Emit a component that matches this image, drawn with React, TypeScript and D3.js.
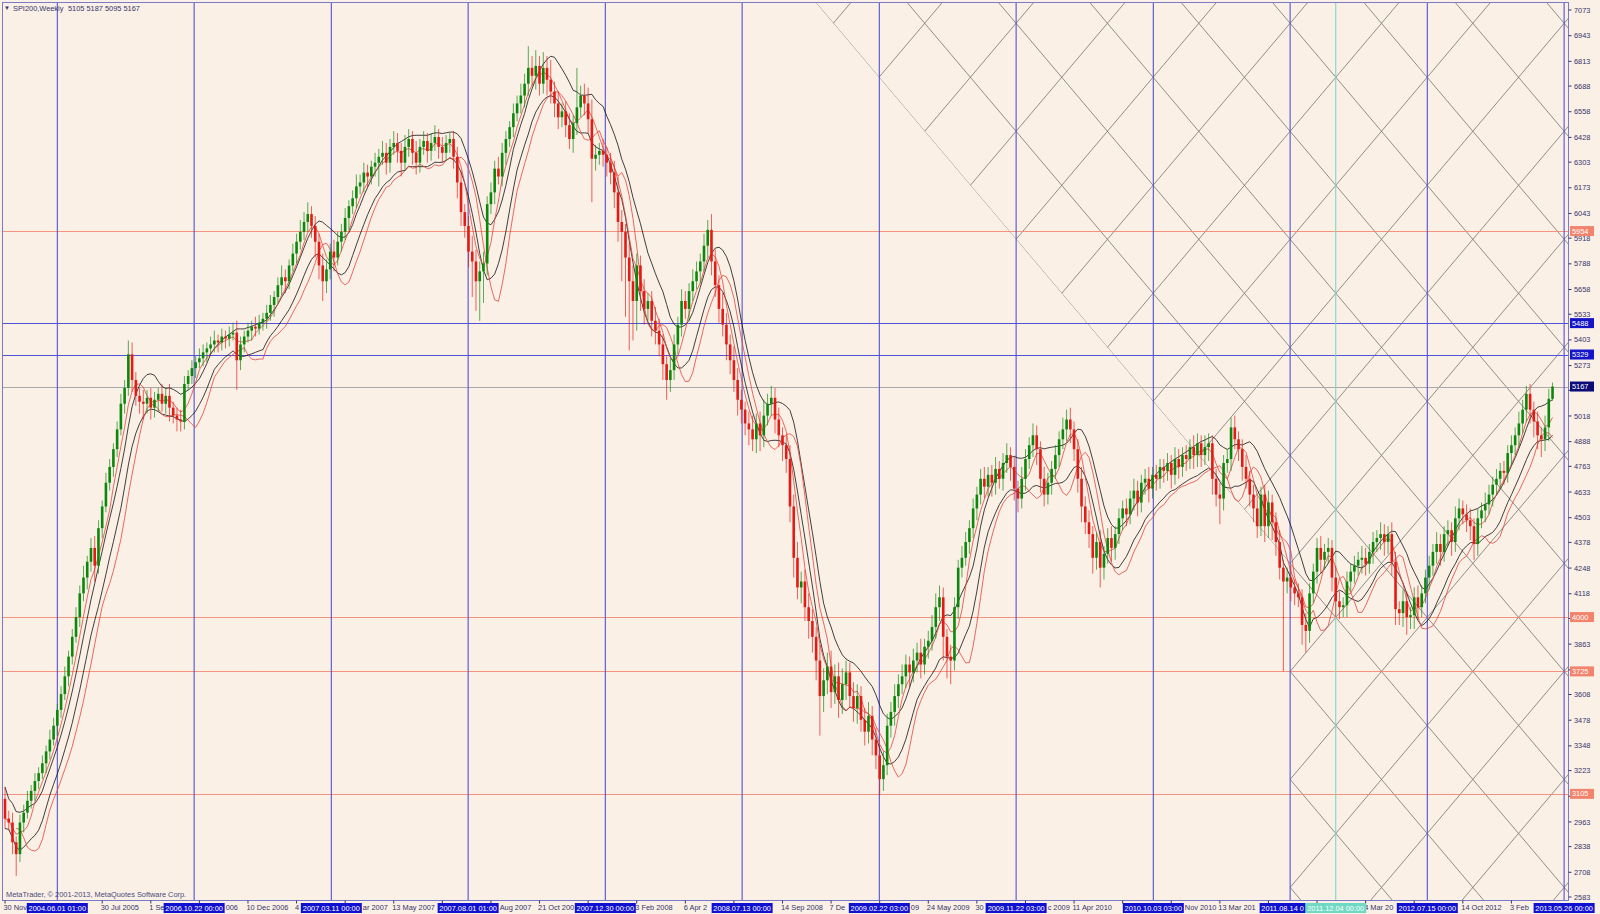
import React from 'react'
import * as d3 from 'd3'

// SPI200 weekly closes, one per bar (bar 0 = first bar on the chart)
const closes = [
  2980, 2960, 2860, 2800, 2960, 3010, 3070, 3120, 3170, 3210,
  3260, 3320, 3380, 3450, 3530, 3610, 3700, 3800, 3900, 4000,
  4120, 4200, 4280, 4350, 4260, 4450, 4560, 4680, 4760, 4850,
  4950, 5080, 5160, 5330, 5200, 5120, 5090, 5080, 5110, 5060,
  5100, 5130, 5080, 5120, 5060, 5020, 5000, 4990, 5180, 5220,
  5260, 5290, 5310, 5340, 5360, 5380, 5400, 5390, 5420, 5410,
  5430, 5440, 5300, 5380, 5420, 5450, 5470, 5460, 5490, 5510,
  5540, 5580, 5620, 5680, 5720, 5700, 5780, 5840, 5900, 5950,
  6000, 6040, 5980, 5900, 5780, 5700, 5760, 5850, 5820, 5900,
  5950, 6020, 6080, 6120, 6180, 6200, 6250, 6230, 6280, 6300,
  6330, 6350, 6300, 6380, 6400, 6360, 6300, 6380, 6420, 6350,
  6300, 6380, 6410, 6360, 6400, 6430, 6380, 6350, 6400, 6420,
  6330, 6200, 6050, 5980, 5850, 5800, 5700, 5750, 5790, 6090,
  6150, 6270, 6230, 6350, 6420, 6480, 6550, 6600, 6640, 6700,
  6780, 6740, 6790, 6700, 6780, 6720, 6660, 6600, 6530, 6560,
  6490, 6420, 6500, 6580, 6640, 6600, 6520, 6320, 6340, 6360,
  6340, 6300, 6250, 6150, 6000, 5950, 5820, 5700, 5600, 5780,
  5650, 5560, 5600, 5500, 5450, 5380, 5280, 5200, 5250, 5380,
  5480, 5600, 5560, 5650, 5700, 5750, 5800, 5880, 5960, 5800,
  5680, 5560, 5480, 5380, 5300, 5200, 5100, 5050, 4980, 4950,
  4900, 4980, 4920, 5020, 5080, 5110, 5000, 4920, 4870, 4800,
  4560, 4300, 4150, 4180, 4050, 3980, 3900, 3780, 3600, 3680,
  3750, 3620, 3700, 3580, 3660, 3720, 3600, 3540, 3600, 3480,
  3420, 3500, 3380, 3300, 3180, 3250, 3450, 3520, 3600, 3660,
  3700, 3760, 3720, 3780, 3820, 3760, 3850, 3880, 3950, 4050,
  4100, 3900, 3800, 3780, 4050, 4250, 4300, 4380, 4450, 4550,
  4620, 4700, 4660, 4720, 4680, 4750, 4700, 4780, 4820, 4760,
  4650, 4600, 4700, 4800, 4870, 4920, 4850, 4700, 4620, 4680,
  4750, 4820, 4900, 4950, 5000, 4950, 4850, 4700, 4560, 4480,
  4420, 4300, 4380, 4250, 4320, 4400, 4350, 4420, 4500, 4550,
  4520, 4600, 4640, 4580, 4680, 4700, 4650, 4720, 4700, 4760,
  4740, 4780, 4720, 4800, 4760, 4820, 4800, 4860, 4820, 4880,
  4820, 4860, 4880, 4700, 4620, 4600, 4780, 4800, 4960, 4900,
  4850, 4760, 4700, 4620, 4550, 4460, 4620, 4460, 4580, 4480,
  4380, 4250, 4180, 4200, 4150, 4120, 4100, 3960, 3930, 4120,
  4230, 4350, 4290, 4330, 4350, 4200, 4080, 4050, 4060, 4180,
  4230, 4260, 4290, 4300, 4270, 4330, 4380, 4400, 4420, 4380,
  4420, 4280, 4040, 4020, 4080, 4000, 4010, 4100, 4050, 4120,
  4200, 4260, 4330, 4370, 4330, 4420, 4440, 4380, 4500, 4550,
  4520, 4490, 4460, 4370, 4500, 4540, 4570, 4620, 4670, 4700,
  4740, 4730, 4830, 4870, 4920, 4980, 5050, 5130, 5050, 4990,
  4920, 4900, 4960, 5105, 5167,
]
const firstOpen = 3080

// wick lengths (points above the body / below the body)
const upWick = [
  60, 40, 50, 30, 40, 40, 50, 30, 40, 30, 40, 30, 50, 40, 30, 40, 50, 30, 40, 50,
  40, 60, 30, 50, 60, 40, 30, 50, 40, 30, 40, 50, 40, 70, 60, 40, 40, 60, 40, 50,
  40, 30, 50, 40, 60, 30, 40, 50, 40, 30, 40, 30, 50, 40, 30, 40, 50, 30, 40, 30,
  40, 50, 60, 40, 30, 40, 30, 50, 40, 30, 40, 50, 30, 40, 60, 40, 30, 50, 40, 60,
  50, 60, 40, 50, 40, 60, 50, 40, 60, 50, 40, 50, 30, 40, 60, 40, 50, 40, 30, 50,
  40, 60, 50, 40, 60, 50, 40, 60, 50, 40, 60, 40, 50, 40, 50, 60, 40, 50, 40, 30,
  40, 50, 60, 40, 50, 80, 60, 50, 60, 40, 50, 40, 60, 50, 40, 30, 50, 40, 60, 50,
  110, 60, 80, 50, 80, 60, 100, 50, 60, 40, 50, 60, 40, 200, 50, 60, 80, 100, 50, 40,
  60, 40, 50, 60, 80, 60, 40, 70, 80, 60, 50, 60, 40, 50, 70, 60, 50, 40, 60, 50,
  40, 60, 50, 40, 60, 50, 40, 60, 50, 80, 60, 50, 80, 60, 50, 70, 60, 50, 40, 60,
  70, 50, 60, 80, 50, 60, 50, 60, 40, 50, 70, 60, 80, 50, 60, 70, 60, 50, 80, 60,
  70, 80, 60, 70, 80, 60, 50, 70, 60, 50, 60, 70, 50, 60, 50, 70, 60, 50, 60, 50,
  60, 50, 40, 60, 50, 70, 40, 50, 60, 70, 60, 50, 40, 60, 50, 40, 60, 50, 40, 50,
  40, 50, 60, 40, 50, 60, 40, 50, 60, 40, 50, 40, 60, 50, 40, 60, 50, 40, 60, 50,
  40, 50, 40, 60, 50, 60, 40, 50, 60, 50, 60, 40, 50, 60, 40, 50, 60, 40, 50, 40,
  50, 40, 60, 50, 40, 50, 60, 40, 50, 40, 40, 50, 40, 60, 50, 40, 50, 40, 60, 50,
  40, 60, 50, 40, 50, 60, 40, 50, 50, 60, 40, 50, 60, 40, 50, 60, 40, 50, 60, 40,
  50, 60, 40, 50, 60, 40, 50, 40, 60, 50, 40, 50, 60, 40, 50, 40, 60, 50, 40, 50,
  40, 50, 40, 60, 50, 40, 50, 40, 60, 50, 40, 60, 50, 40, 60, 50, 40, 50, 60, 40,
  40, 50, 40, 60, 50, 40, 50, 40, 60, 50, 40, 50, 60, 40, 50, 40, 60, 50, 40, 50,
  40, 50, 40, 50, 40, 60, 50, 40, 50, 40, 50, 40, 60, 50, 20,
]
const dnWick = [
  50, 40, 60, 110, 40, 50, 30, 40, 50, 40, 30, 50, 40, 30, 50, 40, 30, 50, 40, 30,
  50, 40, 60, 50, 80, 40, 50, 30, 40, 50, 40, 30, 50, 40, 60, 50, 60, 80, 50, 60,
  50, 60, 40, 50, 70, 40, 60, 50, 40, 30, 40, 50, 30, 40, 50, 30, 40, 50, 40, 50,
  40, 30, 150, 50, 40, 30, 50, 40, 30, 40, 50, 40, 60, 30, 50, 60, 40, 30, 50, 40,
  40, 50, 60, 80, 70, 100, 60, 50, 70, 40, 50, 40, 60, 40, 50, 40, 50, 60, 40, 50,
  120, 40, 60, 50, 40, 60, 70, 40, 50, 60, 60, 50, 40, 60, 50, 40, 60, 50, 40, 50,
  60, 80, 70, 60, 80, 180, 150, 200, 160, 60, 50, 60, 40, 50, 60, 40, 50, 40, 50, 60,
  60, 50, 70, 60, 50, 80, 60, 70, 60, 50, 60, 50, 70, 60, 50, 60, 70, 220, 60, 50,
  60, 70, 60, 80, 100, 250, 300, 350, 200, 150, 100, 80, 60, 80, 70, 60, 80, 100, 60, 50,
  50, 60, 50, 60, 50, 40, 60, 50, 60, 70, 60, 70, 60, 80, 70, 60, 80, 70, 60, 80,
  60, 70, 80, 60, 50, 60, 70, 60, 80, 70, 80, 100, 60, 80, 70, 90, 80, 100, 200, 80,
  70, 80, 60, 90, 70, 80, 60, 70, 80, 60, 70, 60, 80, 70, 80, 60, 50, 60, 70, 60,
  50, 60, 80, 50, 60, 70, 50, 60, 50, 60, 70, 120, 110, 120, 50, 60, 50, 40, 60, 50,
  60, 50, 60, 50, 70, 60, 50, 60, 50, 70, 60, 70, 50, 60, 50, 60, 80, 70, 60, 50,
  60, 50, 60, 50, 60, 70, 60, 70, 80, 60, 70, 80, 60, 100, 60, 50, 70, 60, 50, 60,
  60, 50, 60, 70, 50, 60, 70, 50, 60, 50, 60, 50, 70, 50, 60, 50, 60, 50, 70, 60,
  60, 50, 70, 80, 60, 130, 60, 50, 60, 50, 60, 70, 50, 60, 70, 60, 50, 80, 60, 90,
  70, 60, 455, 60, 70, 60, 50, 100, 110, 60, 50, 60, 70, 50, 60, 70, 80, 60, 50, 60,
  50, 60, 50, 70, 60, 50, 60, 50, 60, 70, 60, 70, 80, 60, 70, 90, 60, 70, 60, 50,
  50, 60, 50, 60, 70, 50, 60, 70, 50, 60, 50, 60, 70, 80, 60, 50, 60, 50, 60, 50,
  50, 60, 50, 60, 50, 60, 50, 60, 70, 80, 70, 90, 60, 70, 10,
]

// right price scale labels
const priceTicks = [
  '7073', '6943', '6813', '6688', '6558', '6428', '6303', '6173', '6043', '5918',
  '5788', '5658', '5533', '5403', '5273', '5148', '5018', '4888', '4763', '4633',
  '4503', '4378', '4248', '4118', '3993', '3863', '3733', '3608', '3478', '3348',
  '3223', '3093', '2963', '2838', '2708', '2583',
]

// time scale: tick bars, and the part of each label left visible before a date box
const timeTickBars = [
  0, 26, 39, 52, 65, 78, 91, 104, 117, 130, 143, 156, 169, 182, 195, 208, 221, 234,
  247, 260, 273, 286, 299, 312, 325, 338, 351, 364, 377, 390, 403,
]
const timeLabels = [
  '30 Nov', '30 Jul 2005', '1 Se', '', '10 Dec 2006', '4',
  '', '13 May 2007', '', '', '21 Oct 200', '',
  '3 Feb 2008', '6 Apr 2', '', '14 Sep 2008', '7 De', '',
  '24 May 2009', '30', '', '11 Apr 2010', '', '',
  '13 Mar 201', '', '', '4 Mar 20', '', '14 Oct 2012',
  '3 Feb',
]
// label tails showing just after a date box (index of that box)
const tailLabels = ['006', 'ar 2007', 'Aug 2007', '09', 'c 2009', 'Nov 2010']
const tailAfterBox = [1, 2, 3, 6, 7, 8]

// vertical line objects
const vLineBars = [14, 50.6, 87.3, 123.9, 160.6, 197.2, 233.9, 270.5, 307.2, 343.8, 380.5, 417.1]
const vLineDates = [
  '2004.06.01 01:00', '2006.10.22 00:00', '2007.03.11 00:00', '2007.08.01 01:00',
  '2007.12.30 00:00', '2008.07.13 00:00', '2009.02.22 03:00', '2009.11.22 03:00',
  '2010.10.03 03:00', '2011.08.14 00:00', '2012.07.15 00:00', '2013.05.26 00:00',
]
const cyanLineBar = 356
const cyanLineDate = '2011.12.04 00:00'

// horizontal line objects
const blueLevels = [5488, 5329]
const redLevels = [5954, 4000, 3725, 3105]
const lastPrice = 5167

// gann grid anchor and unit
const gannBar = 343.8
const gannPrice = 3725
const gannStepBars = 12.22
const gannStepPrice = 273.4

const FONT = '"Liberation Sans", Arial, sans-serif'
const FS = 7.4
const BG = '#faf0e6'
const AXIS_TXT = '#34346a'
const BLUE = '#5252d6'
const SALMON = '#f2836c'
const BOX_W = 61

function sma(vals: number[], period: number, shift: number) {
  return vals.map((_, i) => {
    const end = i - shift
    if (end < 0) return null
    const start = Math.max(0, end - period + 1)
    return d3.mean(vals.slice(start, end + 1)) as number
  })
}

export default function App() {
  const W = 1600
  const H = 914
  const left = 2.5
  const top = 2.5
  const right = 1568.5
  const bottom = 900.5

  const x = d3.scaleLinear().domain([0, closes.length - 1]).range([5, 5 + (closes.length - 1) * 3.738])
  const y = d3.scaleLinear().domain([2583, 7073]).range([897, 10])

  const bars = closes.map((c, i) => {
    const o = i ? closes[i - 1] : firstOpen
    return { i, o, c, h: Math.max(o, c) + upWick[i], l: Math.min(o, c) - dnWick[i] }
  })
  const highs = bars.map((b) => b.h)
  const lows = bars.map((b) => b.l)

  const line = d3
    .line<number | null>()
    .defined((d) => d != null)
    .x((_, i) => x(i))
    .y((d) => y(d as number))

  const maLines = [
    { d: sma(highs, 8, 0), color: '#111' },
    { d: sma(lows, 8, 0), color: '#111' },
    { d: sma(closes, 5, 0), color: '#e2453c' },
    { d: sma(lows, 5, 3), color: '#e2453c' },
  ]

  // gann grid
  const slope = gannStepPrice / gannStepBars
  const gLines: { x1: number; y1: number; x2: number; y2: number }[] = []
  const b1 = -60
  const b2 = 480
  for (let k = -40; k <= 40; k++) {
    const off = 2 * k * gannStepPrice
    gLines.push({
      x1: x(b1), y1: y(gannPrice + slope * (b1 - gannBar) + off),
      x2: x(b2), y2: y(gannPrice + slope * (b2 - gannBar) + off),
    })
    gLines.push({
      x1: x(b1), y1: y(gannPrice - slope * (b1 - gannBar) + off),
      x2: x(b2), y2: y(gannPrice - slope * (b2 - gannBar) + off),
    })
  }
  const edgePrice = gannPrice + 2 * gannStepPrice
  const pTop = y.invert(top)
  const topBar = gannBar + (edgePrice - pTop) / slope
  const gannClip = [
    [x(topBar), top],
    [x(gannBar), y(edgePrice)],
    [x(gannBar), bottom],
    [right, bottom],
    [right, top],
  ]
    .map((p) => p.join(','))
    .join(' ')

  // date boxes along the time scale
  const boxes = vLineDates.map((t, i) => ({ cx: x(vLineBars[i]), text: t, fill: '#1010d0' }))
  const cyanBox = { cx: x(cyanLineBar), text: cyanLineDate, fill: '#6fd9c4' }
  const charW = 3.6
  const boxText = (b: { cx: number; text: string }) => {
    // a box covered on its right by the cyan box only shows the start of its date
    const l = cyanBox.cx - BOX_W / 2
    if (b.cx < cyanBox.cx && b.cx + BOX_W / 2 > l) {
      const start = b.cx - (b.text.length * charW) / 2
      return { text: b.text.slice(0, Math.floor((l - start) / charW)), x: start, anchor: 'start' }
    }
    return { text: b.text, x: b.cx, anchor: 'middle' }
  }

  // price labels hidden behind level boxes
  const levelYs = [...redLevels, ...blueLevels, lastPrice].map((p) => y(p))
  const shownTicks = priceTicks.filter((t) => levelYs.every((ly) => Math.abs(ly - y(+t)) > 5))

  const bull = '#0b870b'
  const bear = '#e51a14'

  return (
    <svg
      width={W}
      height={H}
      style={{ position: 'absolute', left: 0, top: 0, display: 'block', background: BG }}
      fontFamily={FONT}
    >
      <defs>
        <clipPath id="plot">
          <rect x={left} y={top} width={right - left} height={bottom - top} />
        </clipPath>
        <clipPath id="gann">
          <polygon points={gannClip} />
        </clipPath>
      </defs>
      <rect x={0} y={0} width={W} height={H} fill={BG} />

      <g clipPath="url(#plot)">
        <g clipPath="url(#gann)">
          {gLines.map((l, i) => (
            <line key={i} {...l} stroke="#7f7b76" strokeWidth={0.85} />
          ))}
        </g>

        {redLevels.map((p) => (
          <line key={p} x1={left} x2={right} y1={Math.round(y(p)) + 0.5} y2={Math.round(y(p)) + 0.5} stroke={SALMON} strokeWidth={1} opacity={0.85} />
        ))}
        {blueLevels.map((p) => (
          <line key={p} x1={left} x2={right} y1={Math.round(y(p)) + 0.5} y2={Math.round(y(p)) + 0.5} stroke={BLUE} strokeWidth={1} />
        ))}
        <line x1={left} x2={right} y1={Math.round(y(lastPrice)) + 0.5} y2={Math.round(y(lastPrice)) + 0.5} stroke="#a9a9a9" strokeWidth={1} />

        {vLineBars.map((b) => (
          <line key={b} x1={x(b)} x2={x(b)} y1={top} y2={bottom} stroke={BLUE} strokeWidth={1.1} />
        ))}
        <line x1={x(cyanLineBar)} x2={x(cyanLineBar)} y1={top} y2={bottom} stroke="#7fd6c2" strokeWidth={1.1} />

        {maLines.map((m, i) => (
          <path key={i} d={line(m.d) || ''} fill="none" stroke={m.color} strokeWidth={0.8} />
        ))}

        {bars.map((b) => {
          const cx = x(b.i)
          const col = b.c >= b.o ? bull : bear
          const yt = y(Math.max(b.o, b.c))
          const yb = y(Math.min(b.o, b.c))
          return (
            <g key={b.i}>
              <line x1={cx} x2={cx} y1={y(b.h)} y2={y(b.l)} stroke={col} strokeWidth={0.9} opacity={0.75} />
              <rect x={cx - 1.3} y={yt} width={2.6} height={Math.max(1, yb - yt)} fill={col} />
            </g>
          )
        })}
      </g>

      {/* frame */}
      <rect x={left} y={top} width={right - left} height={bottom - top} fill="none" stroke="#7a7ac8" strokeWidth={1} />

      {/* price scale */}
      {priceTicks.map((t) => (
        <line key={t} x1={right} x2={right + 3} y1={y(+t)} y2={y(+t)} stroke={AXIS_TXT} strokeWidth={1} />
      ))}
      {shownTicks.map((t) => (
        <text key={t} x={1574} y={y(+t)} dy="0.35em" fontSize={FS} fill={AXIS_TXT}>
          {t}
        </text>
      ))}
      {redLevels.map((p) => (
        <g key={p}>
          <rect x={1570} y={y(p) - 5} width={24} height={10} fill={SALMON} />
          <text x={1572} y={y(p)} dy="0.35em" fontSize={FS} fill="#fff">
            {p}
          </text>
        </g>
      ))}
      {blueLevels.map((p) => (
        <g key={p}>
          <rect x={1570} y={y(p) - 5} width={24} height={10} fill="#1414c8" />
          <text x={1572} y={y(p)} dy="0.35em" fontSize={FS} fill="#fff">
            {p}
          </text>
        </g>
      ))}
      <rect x={1570} y={y(lastPrice) - 5} width={24} height={10} fill="#0a0a78" />
      <text x={1572} y={y(lastPrice)} dy="0.35em" fontSize={FS} fill="#fff">
        {lastPrice}
      </text>

      {/* time scale */}
      {timeTickBars.map((b) => (
        <line key={b} x1={x(b)} x2={x(b)} y1={bottom} y2={bottom + 3} stroke={AXIS_TXT} strokeWidth={1} />
      ))}
      {timeLabels.map((t, i) =>
        t ? (
          <text key={i} x={x(timeTickBars[i]) - 1.5} y={910} fontSize={FS} fill={AXIS_TXT}>
            {t}
          </text>
        ) : null
      )}
      {tailLabels.map((t, i) => (
        <text key={t} x={boxes[tailAfterBox[i]].cx + BOX_W / 2 + 1} y={910} fontSize={FS} fill={AXIS_TXT}>
          {t}
        </text>
      ))}
      {[...boxes, cyanBox].map((b) => {
        const bt = boxText(b)
        return (
          <g key={b.text}>
            <rect x={b.cx - BOX_W / 2} y={903} width={BOX_W} height={10} fill={b.fill} />
            <text x={bt.x} y={910.5} textAnchor={bt.anchor} fontSize={FS} fill="#fff">
              {bt.text}
            </text>
          </g>
        )
      })}

      {/* title and copyright */}
      <text x={4} y={10} fontSize={6} fill={AXIS_TXT}>
        ▼
      </text>
      <text x={13} y={10.5} fontSize={FS} fill={AXIS_TXT}>
        SPI200,Weekly
      </text>
      <text x={68} y={10.5} fontSize={FS} fill={AXIS_TXT}>
        5105 5187 5095 5167
      </text>
      <text x={6} y={897} fontSize={FS} fill="#4a4a7a">
        MetaTrader, © 2001-2013, MetaQuotes Software Corp.
      </text>
    </svg>
  )
}
